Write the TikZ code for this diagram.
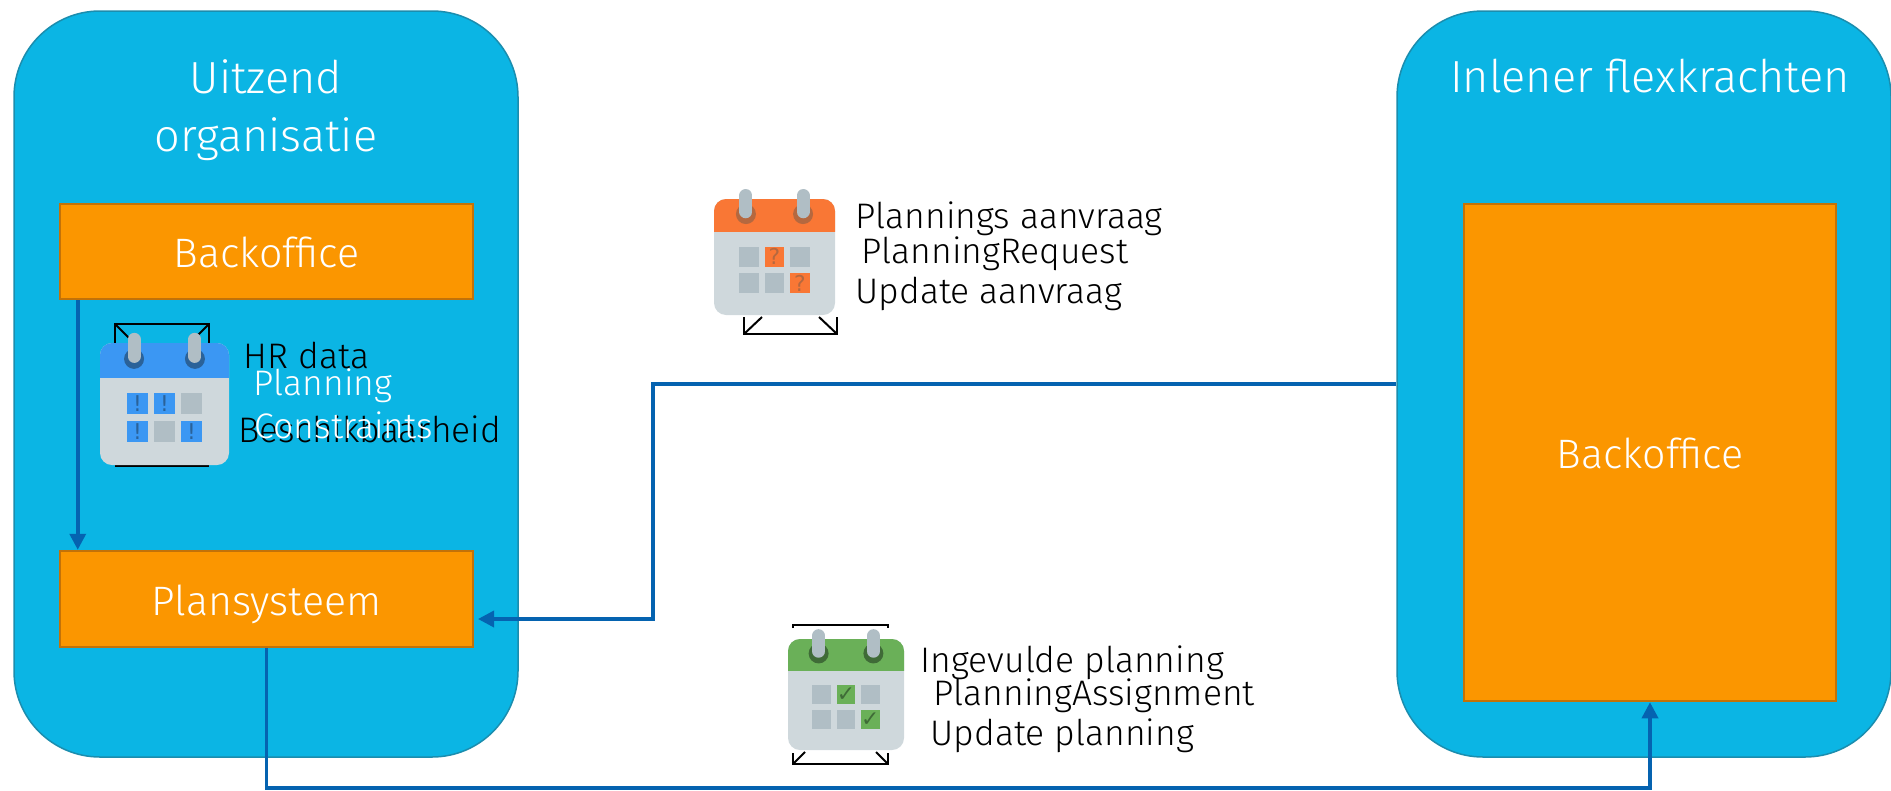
\documentclass[tikz,border=0pt]{standalone}
\usepackage{fontspec}
\setmainfont{Fira Sans Light}
\newfontfamily\symbolfont{DejaVu Sans}
\usetikzlibrary{positioning,arrows.meta}

\definecolor{regionblue}{HTML}{0BB5E4}
\definecolor{regionedge}{HTML}{1B8DAE}
\definecolor{boxorange}{HTML}{FB9600}
\definecolor{boxedge}{HTML}{C27208}
\definecolor{flowblue}{HTML}{0563B0}
\definecolor{calbody}{HTML}{CFD8DC}
\definecolor{calgrey}{HTML}{B0BEC5}
\definecolor{alerthead}{HTML}{3B97F3}
\definecolor{alertdark}{HTML}{2A6299}
\definecolor{requesthead}{HTML}{F97735}
\definecolor{requestdark}{HTML}{B5683F}
\definecolor{assignhead}{HTML}{6AB058}
\definecolor{assigndark}{HTML}{3F6B37}

\tikzset{
  regionbox/.style={draw=regionedge,fill=regionblue,line width=0.015cm,rounded corners=0.86cm,minimum height=7.46cm},
  orangebox/.style={draw=boxedge,fill=boxorange,line width=0.025cm,text=white,font=\fontsize{11.7}{13}\selectfont,text height=0.32cm,text depth=0cm,minimum width=4.13cm},
  titletext/.style={text=white,inner sep=0,anchor=base,font=\fontsize{12.8}{15}\selectfont},
  msgtext/.style={inner sep=0,anchor=base west,font=\fontsize{10.1}{12}\selectfont},
  flow/.style={draw=flowblue,line width=0.035cm,-{Triangle[length=0.16cm,width=0.16cm]}},
  framing/.style={line width=0.02cm},
}

% x, y, width, height, head colour, dark colour, marked cells, mark, name
\newcommand{\calicon}[9]{
  \begin{scope}[shift={(#1,#2)},x=#3cm,y=#4cm]
    \fill[calbody,rounded corners=0.12cm] (0,0) rectangle (1,1);
    \begin{scope}
      \clip (0,0.72) rectangle (1,1.1);
      \fill[#5,rounded corners=0.12cm] (0,0) rectangle (1,1);
    \end{scope}
    \foreach \c in {0,1,2}
      \foreach \r in {0,1}
        \fill[calgrey] (0.21+0.21*\c,0.418-0.228*\r) rectangle ++(0.16,0.17);
    \foreach \c/\r in {#7} {
      \fill[#5] (0.21+0.21*\c,0.418-0.228*\r) rectangle ++(0.16,0.17);
      \node[text=#6,inner sep=0,font=\symbolfont\fontsize{6.2}{7}\selectfont] (#9\c\r) at (0.29+0.21*\c,0.503-0.228*\r) {#8};
    }
    \foreach \c in {0.264,0.736} {
      \fill[#6] (\c,0.87) circle[radius=0.1cm];
      \draw[calgrey,line width=0.13cm,line cap=round] (\c,0.89) -- (\c,1.03);
    }
  \end{scope}
}

\begin{document}
\begin{tikzpicture}
  \useasboundingbox (0,0) rectangle (18.91,7.90);

  % the two organisations
  \node[regionbox,minimum width=5.04cm] (uitzend) at (2.66,4.06) {};
  \node[regionbox,minimum width=4.94cm] (inlener) at (16.44,4.06) {};
  \node[titletext] (uitzendtitle) at (2.66,6.97) {Uitzend};
  \node[titletext] (organisatie) at (2.66,6.39) {organisatie};
  \node[titletext] (inlenertitle) at (16.50,6.98) {Inlener flexkrachten};

  \node[orangebox,minimum height=0.95cm] (backoffice) at (2.665,5.385) {Backoffice};
  \node[orangebox,minimum height=0.96cm] (plansysteem) at (2.665,1.91) {Plansysteem};
  \node[orangebox,minimum width=3.72cm,minimum height=4.97cm] (inlenerback) at (16.50,3.375) {Backoffice};

  \coordinate (requestbend) at (6.53,1.71);
  \coordinate (requestend) at (4.78,1.71);
  \coordinate (assignbus) at (10,0.02);

  \draw[flow] ([xshift=0.19cm]backoffice.south west) -- ([xshift=0.19cm]plansysteem.north west);
  \draw[flow] (inlener.west) -| (requestbend) -- (requestend);
  \draw[flow] (plansysteem.south) -- (plansysteem.south |- assignbus) -- (assignbus -| inlenerback.south) -- (inlenerback.south);

  % blue calendar
  \draw[framing] (1.15,4.47) -- (1.15,4.66) -- (2.09,4.66) -- (2.09,4.47);
  \draw[framing] (1.15,4.66) -- (1.35,4.46) (2.09,4.66) -- (1.89,4.46);
  \draw[framing] (1.15,3.245) -- (2.09,3.245);
  \calicon{1.00}{3.25}{1.29}{1.22}{alerthead}{alertdark}{0/0,1/0,0/1,2/1}{!}{alertcell}

  % orange calendar
  \draw[framing] (7.44,4.73) -- (7.44,4.56) -- (8.37,4.56) -- (8.37,4.73);
  \draw[framing] (7.44,4.56) -- (7.62,4.73) (8.37,4.56) -- (8.19,4.73);
  \calicon{7.14}{4.75}{1.21}{1.16}{requesthead}{requestdark}{1/0,2/1}{?}{requestcell}

  % green calendar
  \draw[framing] (7.93,1.62) -- (7.93,1.65) -- (8.88,1.65) -- (8.88,1.62);
  \draw[framing] (7.93,0.37) -- (7.93,0.26) -- (8.88,0.26) -- (8.88,0.37);
  \draw[framing] (7.93,0.26) -- (8.05,0.38) (8.88,0.26) -- (8.76,0.38);
  \calicon{7.88}{0.40}{1.16}{1.11}{assignhead}{assigndark}{1/0,2/1}{✓}{assigncell}

  \node[msgtext] (hrdata) at (2.43,4.22) {HR data};
  \node[msgtext] (beschikbaar) at (2.38,3.48) {Beschikbaarheid};
  \node[msgtext,text=white] (planningtext) at (2.53,3.95) {Planning};
  \node[msgtext,text=white] (constraints) at (2.54,3.52) {Constraints};

  \node[msgtext] (aanvraag) at (8.55,5.62) {Plannings aanvraag};
  \node[msgtext] (requesttext) at (8.61,5.27) {PlanningRequest};
  \node[msgtext] (updateaanvraag) at (8.55,4.87) {Update aanvraag};

  \node[msgtext] (ingevuld) at (9.20,1.18) {Ingevulde planning};
  \node[msgtext] (assigntext) at (9.33,0.85) {PlanningAssignment};
  \node[msgtext] (updateplanning) at (9.30,0.45) {Update planning};
\end{tikzpicture}
\end{document}
